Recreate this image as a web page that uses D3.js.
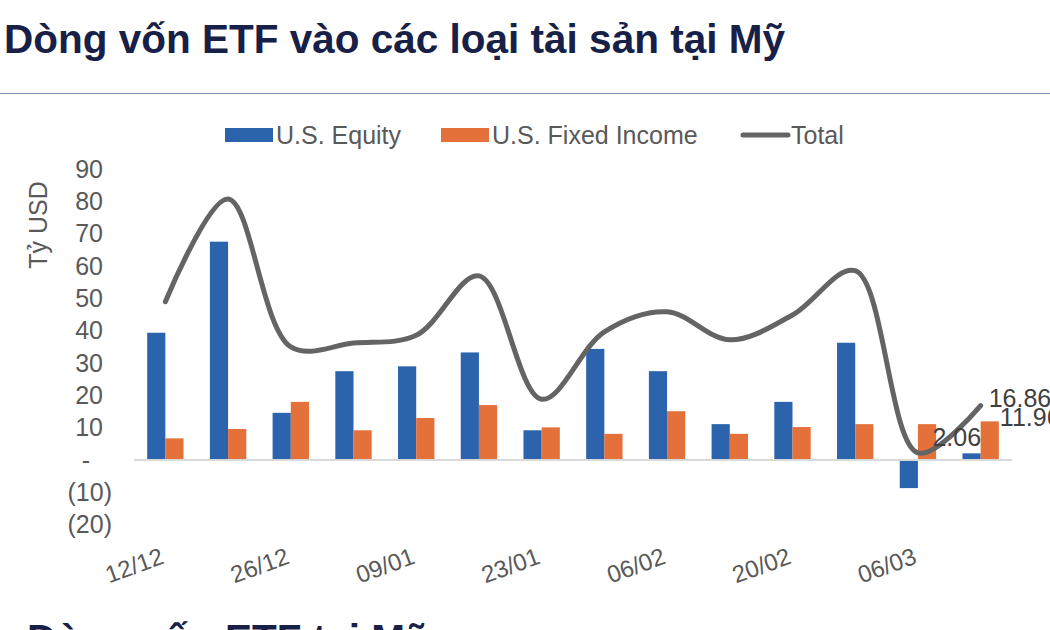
<!DOCTYPE html>
<html>
<head>
<meta charset="utf-8">
<script src="https://cdn.jsdelivr.net/npm/d3@7"></script>
<style>
  html, body { margin: 0; padding: 0; background: #fff; overflow: hidden; }
  svg { display: block; font-family: "Liberation Sans", Arial, sans-serif; }
</style>
</head>
<body>
<div id="chart"></div>
<script>
// weekly ETF flows, billions USD
const categories = ["12/12", "19/12", "26/12", "02/01", "09/01", "16/01", "23/01",
                    "30/01", "06/02", "13/02", "20/02", "27/02", "06/03", "13/03"];
const equity = [39.4, 67.6, 14.6, 27.5, 29.0, 33.3, 9.2, 34.4, 27.5, 11.1, 18.0, 36.3, -8.7, 2.06];
const fixedIncome = [6.7, 9.6, 18.0, 9.2, 13.0, 17.0, 10.1, 8.1, 15.1, 8.1, 10.2, 11.1, 11.1, 11.96];
const total = [49.0, 80.8, 35.0, 36.2, 38.6, 57.0, 18.8, 39.7, 45.9, 37.2, 44.9, 58.6, 2.2, 16.86];
const yTicks = [-20, -10, 0, 10, 20, 30, 40, 50, 60, 70, 80, 90];
const shownDates = ["12/12", "26/12", "09/01", "23/01", "06/02", "20/02", "06/03"];
const seriesNames = ["U.S. Equity", "U.S. Fixed Income", "Total"];

const W = 1050, H = 630;
const blue = "#2b64ad", orange = "#e4703a", grey = "#646464";
const textGrey = "#595959";

const svg = d3.select("#chart").append("svg")
    .attr("width", W)
    .attr("height", H);

// header
svg.append("text")
    .attr("x", 4)
    .attr("y", 53)
    .style("font-size", "40.5px")
    .style("font-weight", "bold")
    .attr("fill", "#172046")
    .text("Dòng vốn ETF vào các loại tài sản tại Mỹ");

svg.append("line")
    .attr("x1", 0).attr("x2", W)
    .attr("y1", 93.5).attr("y2", 93.5)
    .attr("stroke", "#7d97b9")
    .attr("stroke-width", 1.2);

// next section heading, cut off by the bottom edge
svg.append("text")
    .attr("x", 27)
    .attr("y", 653)
    .style("font-size", "40.5px")
    .style("font-weight", "bold")
    .attr("fill", "#172046")
    .text("Dòng vốn ETF tại Mỹ");

// scales
const x0 = d3.scaleBand()
    .domain(categories)
    .range([134, 1012])
    .paddingInner(0.42)
    .paddingOuter(0.21);

const x1 = d3.scaleBand()
    .domain(["eq", "fi"])
    .range([0, x0.bandwidth()]);

const y = d3.scaleLinear()
    .domain([-20, 90])
    .range([524.6, 169.3]);

const cx = d => x0(d) + x0.bandwidth() / 2;

// y axis
const fmt = v => v === 0 ? "-" : v < 0 ? `(${-v})` : `${v}`;
const yAxis = svg.append("g")
    .attr("transform", "translate(112,0)")
    .call(d3.axisLeft(y).tickValues(yTicks).tickFormat(fmt).tickSize(0).tickPadding(0));
yAxis.select(".domain").remove();
yAxis.selectAll("text")
    .attr("x", d => d < 0 ? 0 : d === 0 ? -22 : -9)
    .attr("fill", textGrey)
    .style("font-size", "25px")
    .style("font-family", "Liberation Sans, Arial, sans-serif");

svg.append("text")
    .attr("transform", "translate(47,225) rotate(-90)")
    .attr("text-anchor", "middle")
    .attr("fill", textGrey)
    .style("font-size", "25px")
    .text("Tỷ USD");

// x axis labels
const xAxis = svg.append("g")
    .attr("transform", "translate(0,540)")
    .call(d3.axisBottom(x0).tickValues(shownDates).tickSize(0));
xAxis.select(".domain").remove();
xAxis.selectAll("text")
    .attr("y", 0)
    .attr("dy", 0)
    .attr("transform", "translate(0,23) rotate(-20)")
    .style("text-anchor", "end")
    .attr("fill", textGrey)
    .style("font-size", "24px")
    .style("font-family", "Liberation Sans, Arial, sans-serif");

// bars
const groups = svg.append("g").selectAll("g")
    .data(categories)
    .join("g")
    .attr("transform", d => `translate(${x0(d)},0)`);

groups.append("rect")
    .attr("x", x1("eq"))
    .attr("width", x1.bandwidth())
    .attr("y", (d, i) => y(Math.max(0, equity[i])))
    .attr("height", (d, i) => Math.abs(y(equity[i]) - y(0)))
    .attr("fill", blue);

groups.append("rect")
    .attr("x", x1("fi"))
    .attr("width", x1.bandwidth())
    .attr("y", (d, i) => y(Math.max(0, fixedIncome[i])))
    .attr("height", (d, i) => Math.abs(y(fixedIncome[i]) - y(0)))
    .attr("fill", orange);

// zero line
svg.append("line")
    .attr("x1", x0.range()[0]).attr("x2", x0.range()[1])
    .attr("y1", y(0)).attr("y2", y(0))
    .attr("stroke", "#d9d9d9")
    .attr("stroke-width", 2);

// total line
const line = d3.line()
    .x((d, i) => cx(categories[i]))
    .y(d => y(d))
    .curve(d3.curveCatmullRom.alpha(0.5));

svg.append("path")
    .datum(total)
    .attr("d", line)
    .attr("fill", "none")
    .attr("stroke", grey)
    .attr("stroke-width", 5)
    .attr("stroke-linecap", "round");

// last-week data labels
const last = categories.length - 1;
const lastCat = categories[last];
const labelStyle = sel => sel
    .attr("dominant-baseline", "central")
    .attr("fill", "#404040")
    .style("font-size", "25px");

svg.append("text")
    .attr("x", cx(lastCat) + 8)
    .attr("y", y(total[last]) - 8)
    .call(labelStyle)
    .text(total[last].toFixed(2));

svg.append("text")
    .attr("x", x0(lastCat) + x1("fi") + x1.bandwidth() + 1)
    .attr("y", y(fixedIncome[last]) - 4)
    .call(labelStyle)
    .text(fixedIncome[last].toFixed(2));

svg.append("text")
    .attr("x", x0(lastCat) - 30)
    .attr("y", y(equity[last]) - 16)
    .call(labelStyle)
    .text(equity[last].toFixed(2));

// legend
const legend = svg.append("g").attr("transform", "translate(0,135)");
const legendItems = [
    { name: seriesNames[0], x: 225, color: blue, type: "rect" },
    { name: seriesNames[1], x: 441, color: orange, type: "rect" },
    { name: seriesNames[2], x: 740, color: grey, type: "line" }
];
legendItems.forEach(it => {
    if (it.type === "rect") {
        legend.append("rect")
            .attr("x", it.x).attr("y", -7)
            .attr("width", 48).attr("height", 14)
            .attr("fill", it.color);
    } else {
        legend.append("line")
            .attr("x1", it.x + 3).attr("x2", it.x + 48)
            .attr("y1", 0).attr("y2", 0)
            .attr("stroke", it.color)
            .attr("stroke-width", 5)
            .attr("stroke-linecap", "round");
    }
    legend.append("text")
        .attr("x", it.x + 51)
        .attr("y", 0)
        .attr("dominant-baseline", "central")
        .attr("fill", textGrey)
        .style("font-size", "25px")
        .text(it.name);
});
</script>
</body>
</html>
